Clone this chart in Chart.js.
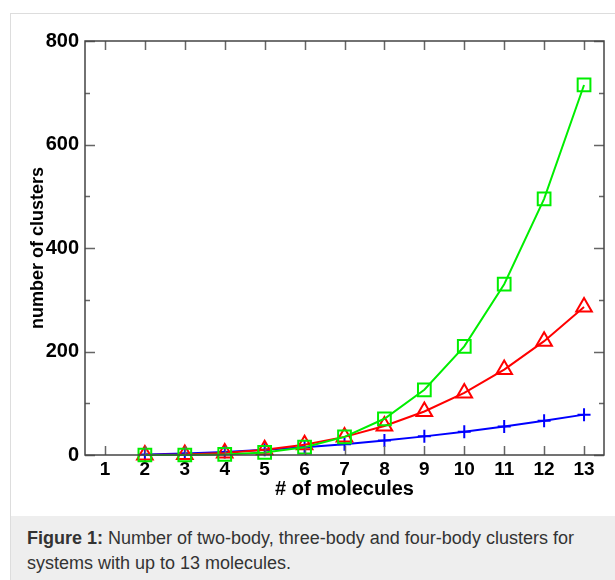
<!DOCTYPE html>
<html>
<head>
<meta charset="utf-8">
<script src="https://cdn.jsdelivr.net/npm/chart.js@4/dist/chart.umd.min.js"></script>
<style>
  html, body { margin: 0; padding: 0; background: #fff; }
  #frame { position: absolute; left: 10px; top: 13px; width: 620px; height: 580px; border: 1px solid #ddd; box-sizing: border-box; background: #fff; }
  #c { position: absolute; left: 0; top: 0; }
  #cap { position: absolute; left: 11px; top: 516px; width: 610px; height: 70px; background: #eeeeee;
         font-family: "Liberation Sans", Arial, sans-serif; font-size: 18px; line-height: 25px; color: #333;
         padding: 10px 10px 0 16px; box-sizing: border-box; }
</style>
</head>
<body>
<div id="frame"></div>
<canvas id="c" width="615" height="516"></canvas>
<div id="cap"><b>Figure 1:</b> Number of two-body, three-body and four-body clusters for systems with up to 13 molecules.</div>
<script>
const molecules = [2, 3, 4, 5, 6, 7, 8, 9, 10, 11, 12, 13];
const twoBody   = [1, 3, 6, 10, 15, 21, 28, 36, 45, 55, 66, 78];
const threeBody = [0, 1, 4, 10, 20, 35, 56, 84, 120, 165, 220, 286];
const fourBody  = [0, 0, 1, 5, 15, 35, 70, 126, 210, 330, 495, 715];
const xTicks = [1, 2, 3, 4, 5, 6, 7, 8, 9, 10, 11, 12, 13];
const yTicks = [0, 200, 400, 600, 800];
const yMinorTicks = [100, 300, 500, 700];

const pts = arr => molecules.map((m, i) => ({ x: m, y: arr[i] }));
const FONT = '"Liberation Sans", Arial, sans-serif';

const frameTicks = {
  id: 'frameTicks',
  afterDraw(chart) {
    const { ctx, chartArea: a, scales: { x, y } } = chart;
    ctx.save();
    ctx.strokeStyle = '#666';
    ctx.lineWidth = 1.5;
    ctx.beginPath();
    xTicks.forEach(v => {
      const px = Math.round(x.getPixelForValue(v)) + 0.5;
      ctx.moveTo(px, a.bottom); ctx.lineTo(px, a.bottom - 9);
      ctx.moveTo(px, a.top); ctx.lineTo(px, a.top + 9);
    });
    yTicks.forEach(v => {
      const py = Math.round(y.getPixelForValue(v)) + 0.5;
      ctx.moveTo(a.left, py); ctx.lineTo(a.left + 10, py);
      ctx.moveTo(a.right, py); ctx.lineTo(a.right - 10, py);
    });
    yMinorTicks.forEach(v => {
      const py = Math.round(y.getPixelForValue(v)) + 0.5;
      ctx.moveTo(a.left, py); ctx.lineTo(a.left + 5, py);
      ctx.moveTo(a.right, py); ctx.lineTo(a.right - 5, py);
    });
    ctx.stroke();
    ctx.strokeStyle = '#444';
    ctx.lineWidth = 1.5;
    ctx.strokeRect(a.left, a.top, a.right - a.left, a.bottom - a.top);
    ctx.restore();
  }
};

new Chart(document.getElementById('c'), {
  type: 'line',
  data: {
    datasets: [
      { label: 'four-body', data: pts(fourBody), borderColor: '#00ee00', backgroundColor: 'rgba(0,0,0,0)',
        pointStyle: 'rect', pointRadius: 9, pointBorderWidth: 2, borderWidth: 2, pointBorderColor: '#00ee00' },
      { label: 'three-body', data: pts(threeBody), borderColor: '#ff0000', backgroundColor: 'rgba(0,0,0,0)',
        pointStyle: 'triangle', pointRadius: 9, pointBorderWidth: 2, borderWidth: 2, pointBorderColor: '#ff0000' },
      { label: 'two-body', data: pts(twoBody), borderColor: '#0000ff', backgroundColor: 'rgba(0,0,0,0)',
        pointStyle: 'cross', pointRadius: 6.5, pointBorderWidth: 2, borderWidth: 2, pointBorderColor: '#0000ff' }
    ]
  },
  options: {
    responsive: false,
    animation: false,
    clip: false,
    layout: { padding: { left: 0, top: 41, right: 5, bottom: 0 } },
    plugins: { legend: { display: false }, tooltip: { enabled: false } },
    elements: { line: { tension: 0 } },
    scales: {
      x: {
        type: 'linear', min: 0.5, max: 13.5,
        afterBuildTicks: s => { s.ticks = xTicks.map(v => ({ value: v })); },
        afterFit: s => { s.height = 61; },
        grid: { display: false, drawTicks: false },
        border: { display: false },
        ticks: { color: '#000', padding: 3, font: { family: FONT, size: 19, weight: 'bold' }, maxRotation: 0, autoSkip: false },
        title: { display: true, text: '# of molecules', color: '#000', padding: { top: 0, bottom: 15 },
                 font: { family: FONT, size: 20, weight: 'bold' } }
      },
      y: {
        min: 0, max: 800,
        afterBuildTicks: s => { s.ticks = yTicks.map(v => ({ value: v })); },
        afterFit: s => { s.width = 85; },
        grid: { display: false, drawTicks: false },
        border: { display: false },
        ticks: { color: '#000', padding: 6, font: { family: FONT, size: 20, weight: 'bold' } },
        title: { display: true, text: 'number of clusters', color: '#000', padding: { top: 27, bottom: 0 },
                 font: { family: FONT, size: 18, weight: 'bold' } }
      }
    }
  },
  plugins: [frameTicks]
});
</script>
</body>
</html>
